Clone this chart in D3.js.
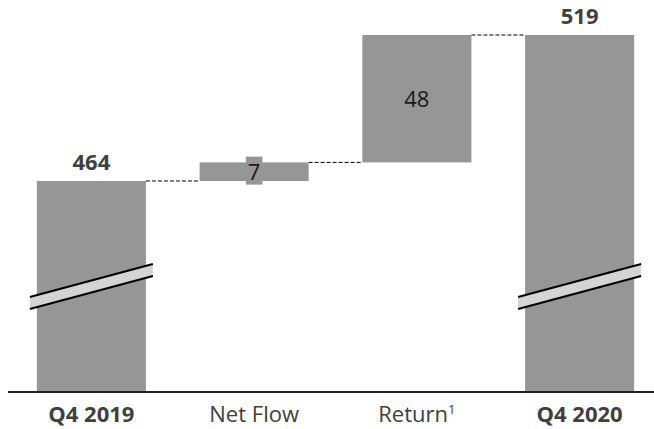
<!DOCTYPE html>
<html>
<head>
<meta charset="utf-8">
<script src="https://cdn.jsdelivr.net/npm/d3@7"></script>
<style>
  body { margin: 0; background: #fff; }
  text { font-family: "Open Sans", sans-serif; }
</style>
</head>
<body>
<div id="chart"></div>
<script>
// waterfall data
var categories = ["Q4 2019", "Net Flow", "Return", "Q4 2020"];
var isTotal = [true, false, false, true];
var values = [464, 7, 48, 519];
var superscripts = ["", "", "1", ""];

var width = 654, height = 429;
var baseY = 392;

var svg = d3.select("#chart").append("svg")
    .attr("width", width)
    .attr("height", height);

var x = d3.scaleBand()
    .domain(categories)
    .range([10, 661])
    .paddingInner(0.33)
    .paddingOuter(0.165);

// broken axis: the value scale starts well above zero
var y = d3.scaleLinear()
    .domain([384.5, 519])
    .range([baseY, 35]);

// compute start / end of each step
var bars = [];
var running = 0;
categories.forEach(function(c, i) {
  var b = { cat: c, total: isTotal[i], value: values[i], sup: superscripts[i] };
  if (b.total) {
    b.y0 = y.domain()[0];
    b.y1 = values[i];
    running = values[i];
  } else {
    b.y0 = running;
    b.y1 = running + values[i];
    running = b.y1;
  }
  bars.push(b);
});

svg.selectAll("rect.bar")
    .data(bars)
  .enter().append("rect")
    .attr("class", "bar")
    .attr("x", function(d) { return x(d.cat); })
    .attr("width", x.bandwidth())
    .attr("y", function(d) { return y(d.y1); })
    .attr("height", function(d) { return y(d.y0) - y(d.y1); })
    .attr("fill", "#969696");

// dashed connectors
for (var i = 0; i < bars.length - 1; i++) {
  var level = bars[i].y1;
  svg.append("line")
      .attr("x1", x(bars[i].cat) + x.bandwidth())
      .attr("x2", x(bars[i + 1].cat))
      .attr("y1", y(level))
      .attr("y2", y(level))
      .attr("stroke", "#000")
      .attr("stroke-width", 1)
      .attr("stroke-dasharray", "4,2");
}

// break marks on total bars
var breakTop = 420.3, slope = 33, gap = 12;
bars.filter(function(d) { return d.total; }).forEach(function(d) {
  var xl = x(d.cat) - 7, xr = x(d.cat) + x.bandwidth() + 7;
  var yl = y(breakTop), yr = yl - slope;
  svg.append("path")
      .attr("d", "M" + xl + "," + yl + "L" + xr + "," + yr + "L" + xr + "," + (yr + gap) + "L" + xl + "," + (yl + gap) + "Z")
      .attr("fill", "#d4d4d4");
  [0, gap].forEach(function(off) {
    svg.append("line")
        .attr("x1", xl).attr("y1", yl + off)
        .attr("x2", xr).attr("y2", yr + off)
        .attr("stroke", "#000")
        .attr("stroke-width", 2);
  });
});

// value labels
bars.forEach(function(d) {
  var cx = x(d.cat) + x.bandwidth() / 2;
  if (d.total) {
    svg.append("text")
        .attr("x", cx)
        .attr("y", y(d.y1) - 11)
        .attr("text-anchor", "middle")
        .attr("font-size", 22)
        .attr("font-weight", "bold")
        .attr("fill", "#404040")
        .text(d.value);
  } else {
    var my = (y(d.y0) + y(d.y1)) / 2;
    var t = svg.append("text")
        .attr("x", cx)
        .attr("y", my)
        .attr("dy", "0.36em")
        .attr("text-anchor", "middle")
        .attr("font-size", 22)
        .attr("fill", "#1a1a1a")
        .text(d.value);
    var bb = t.node().getBBox();
    svg.insert("rect", function() { return t.node(); })
        .attr("x", bb.x - 2)
        .attr("y", bb.y + 1)
        .attr("width", bb.width + 4)
        .attr("height", bb.height - 2)
        .attr("fill", "#969696");
  }
});

// axis
var xAxis = d3.axisBottom(x).tickSize(0).tickPadding(14);
var gx = svg.append("g")
    .attr("transform", "translate(0," + baseY + ")")
    .call(xAxis);
gx.select(".domain").remove();
gx.append("line")
    .attr("x1", 8).attr("x2", 654)
    .attr("stroke", "#222")
    .attr("stroke-width", 2);
gx.selectAll(".tick text")
    .attr("font-family", "Open Sans, sans-serif")
    .attr("font-size", 22)
    .attr("fill", "#404040")
    .attr("font-weight", function(d, i) { return isTotal[i] ? "bold" : "normal"; })
    .each(function(d, i) {
      if (superscripts[i]) {
        d3.select(this).append("tspan")
            .attr("font-size", 13)
            .attr("dy", "-0.6em")
            .text(superscripts[i]);
      }
    });
</script>
</body>
</html>
